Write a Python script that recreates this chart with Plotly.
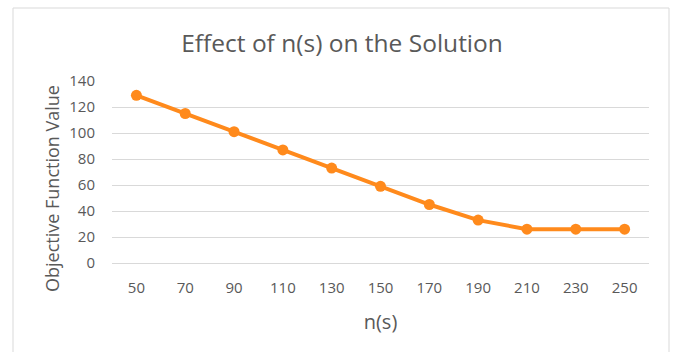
import plotly.graph_objects as go

n_s = ["50", "70", "90", "110", "130", "150", "170", "190", "210", "230", "250"]
objective = [129, 115, 101, 87, 73, 59, 45, 33, 26, 26, 26]
y_ticks = [0, 20, 40, 60, 80, 100, 120, 140]

ORANGE = "#FF8A1C"
GRAY = "#595959"
FONT = "Open Sans"

fig = go.Figure()
fig.add_trace(go.Scatter(
    x=n_s, y=objective, mode="lines+markers",
    line=dict(color=ORANGE, width=4),
    marker=dict(color=ORANGE, size=11),
    showlegend=False,
))

L, R, T, B = 112, 25, 81, 89
W, H = 674, 352
pw, ph = W - L - R, H - T - B

def px_x(p):
    return (p - L) / pw

def px_y(p):
    return (H - B - p) / ph

fig.update_layout(
    width=W, height=H,
    margin=dict(l=L, r=R, t=T, b=B),
    paper_bgcolor="white", plot_bgcolor="white",
    font=dict(family=FONT, color=GRAY, size=15),
    title=dict(text="Effect of n(s) on the Solution", x=342 / W, xanchor="center",
               y=1 - 43 / H, yanchor="middle",
               font=dict(family=FONT, size=24.5, color=GRAY)),
    xaxis=dict(type="category", range=[-0.5, len(n_s) - 0.5],
               showgrid=False, zeroline=False, showline=False,
               ticks="", tickfont=dict(size=15, color=GRAY), ticklabelstandoff=14,
               title=dict(text="n(s)", font=dict(size=20, color=GRAY), standoff=18)),
    yaxis=dict(range=[0, 140], tickvals=y_ticks, showgrid=True, gridcolor="#D9D9D9",
               gridwidth=1, zeroline=True, zerolinecolor="#D9D9D9", zerolinewidth=1,
               showline=False, ticks="",
               tickfont=dict(size=15, color=GRAY), ticklabelstandoff=16),
    annotations=[dict(text="Objective Function Value", textangle=-90,
                      xref="paper", yref="paper", x=px_x(52), y=px_y(189),
                      xanchor="center", yanchor="middle", showarrow=False,
                      font=dict(size=18, color=GRAY, family=FONT))],
    shapes=[dict(type="rect", xref="paper", yref="paper",
                 x0=px_x(13), x1=px_x(669), y0=px_y(400), y1=px_y(8),
                 line=dict(color="#D9D9D9", width=1), layer="below")],
)

fig.write_html("out.html")
